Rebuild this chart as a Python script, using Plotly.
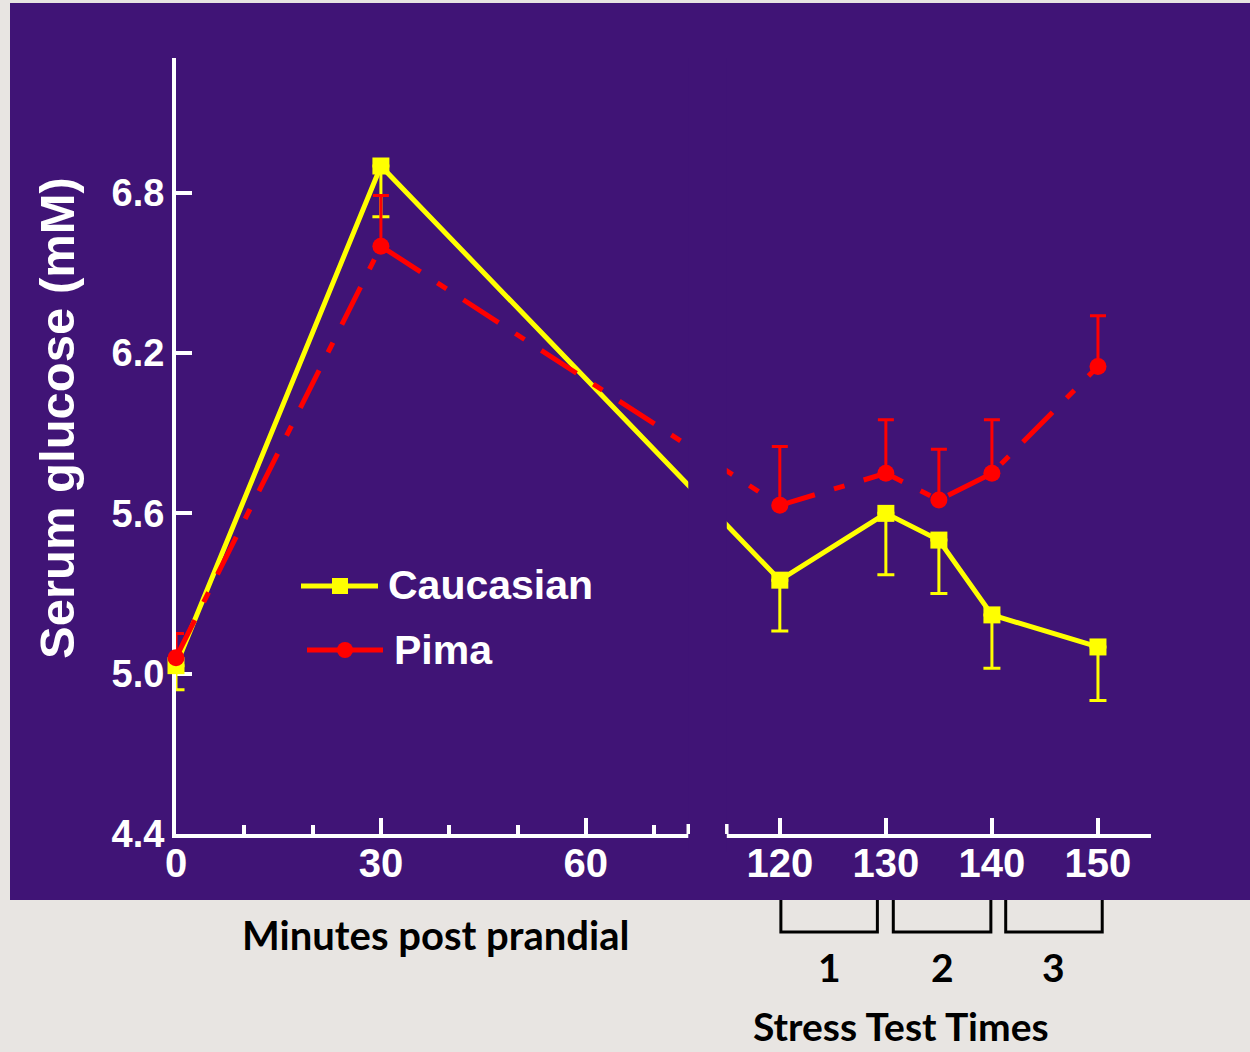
import plotly.graph_objects as go

# ---------------- data ----------------
minutes = [0, 30, 120, 130, 135, 140, 150]
caucasian = [5.03, 6.90, 5.35, 5.60, 5.50, 5.22, 5.10]
caucasian_err = [0.09, 0.19, 0.19, 0.23, 0.20, 0.20, 0.20]
pima = [5.06, 6.60, 5.63, 5.75, 5.65, 5.75, 6.15]
pima_err = [0.09, 0.19, 0.22, 0.20, 0.19, 0.20, 0.19]

x_major_ticks = [0, 30, 60, 120, 130, 140, 150]
x_minor_ticks = [10, 20, 40, 50, 70]
y_ticks = [4.4, 5.0, 5.6, 6.2, 6.8]
stress_labels = ["1", "2", "3"]
stress_spans = [(120.1, 129.2), (130.7, 139.9), (141.3, 150.4)]

# ---------------- broken x scale ----------------
LEFT_END = 75.0        # last minute shown in the left segment
RIGHT_START = 115.0    # first minute shown in the right segment
RIGHT_END = 155.0
RIGHT_OFFSET = 80.64   # axis position where the right segment begins
RIGHT_STRETCH = 1.5527 # right segment is drawn wider per minute


def broken_x(m):
    if m <= LEFT_END:
        return m
    return RIGHT_OFFSET + (m - RIGHT_START) * RIGHT_STRETCH


bx = [broken_x(m) for m in minutes]

# ---------------- geometry / style ----------------
W, H = 1250, 1052
ML, MR, MT, MB = 176, 99, 58, 218
PW, PH = W - ML - MR, H - MT - MB


def px_x(p):
    return (p - ML) / PW


def px_y(p):
    return (H - MB - p) / PH


PURPLE = "rgb(64,20,118)"
GREY = "#e8e5e2"
YELLOW = "#ffff00"
RED = "#ff0000"
WHITE = "#ffffff"
ARIAL = "Liberation Sans, Arial, sans-serif"
CALIBRI = "Lato, Open Sans, sans-serif"

fig = go.Figure()

fig.add_trace(go.Scatter(
    x=bx, y=caucasian, name="Caucasian", mode="lines+markers",
    line=dict(color=YELLOW, width=5),
    marker=dict(symbol="square", size=17, color=YELLOW),
    error_y=dict(type="data", symmetric=False, array=[0] * len(caucasian_err),
                 arrayminus=caucasian_err, color=YELLOW, thickness=3, width=8.5),
    cliponaxis=False, showlegend=False,
))
fig.add_trace(go.Scatter(
    x=bx, y=pima, name="Pima", mode="lines+markers",
    line=dict(color=RED, width=5, dash="42px,20px,11px,20px"),
    marker=dict(symbol="circle", size=17, color=RED),
    error_y=dict(type="data", symmetric=False, array=pima_err,
                 arrayminus=[0] * len(pima_err), color=RED, thickness=3, width=8),
    cliponaxis=False, showlegend=False,
))

shapes = []
# purple panel
shapes.append(dict(type="rect", xref="paper", yref="paper",
                   x0=px_x(10), x1=px_x(1250), y0=px_y(900), y1=px_y(3),
                   fillcolor=PURPLE, line=dict(width=0), layer="below"))
# axis break mask
shapes.append(dict(type="rect", xref="x", yref="paper",
                   x0=broken_x(LEFT_END), x1=broken_x(RIGHT_START),
                   y0=px_y(852), y1=1.0,
                   fillcolor=PURPLE, line=dict(width=0), layer="above"))
# break end caps
for m in (LEFT_END, RIGHT_START):
    shapes.append(dict(type="line", xref="x", yref="y", ysizemode="pixel",
                       yanchor=4.4, x0=broken_x(m), x1=broken_x(m), y0=-13, y1=10,
                       line=dict(color=WHITE, width=3.5), layer="above"))
# stress test brackets
for a, b in stress_spans:
    xa, xb = broken_x(a), broken_x(b)
    ya, yb = px_y(900), px_y(932)
    shapes.append(dict(type="path", xref="x", yref="paper",
                       path=f"M{xa},{ya} L{xa},{yb} L{xb},{yb} L{xb},{ya}",
                       line=dict(color="black", width=3)))
# custom legend
shapes.append(dict(type="line", xref="paper", yref="paper",
                   x0=px_x(301), x1=px_x(378), y0=px_y(586), y1=px_y(586),
                   line=dict(color=YELLOW, width=5)))
shapes.append(dict(type="rect", xref="paper", yref="paper",
                   xsizemode="pixel", ysizemode="pixel",
                   xanchor=px_x(340), yanchor=px_y(586), x0=-8, x1=8, y0=-8, y1=8,
                   fillcolor=YELLOW, line=dict(width=0)))
shapes.append(dict(type="line", xref="paper", yref="paper",
                   x0=px_x(307), x1=px_x(383), y0=px_y(650), y1=px_y(650),
                   line=dict(color=RED, width=5)))
shapes.append(dict(type="circle", xref="paper", yref="paper",
                   xsizemode="pixel", ysizemode="pixel",
                   xanchor=px_x(345), yanchor=px_y(650), x0=-8, x1=8, y0=-8, y1=8,
                   fillcolor=RED, line=dict(width=0)))

annotations = [
    dict(text="Serum glucose (mM)", textangle=-90, xref="paper", yref="paper",
         x=px_x(57), y=px_y(418), xanchor="center", yanchor="middle", showarrow=False,
         font=dict(family=ARIAL, size=49, color=WHITE, weight="bold")),
    dict(text="Caucasian", xref="paper", yref="paper", x=px_x(386), y=px_y(585),
         xanchor="left", yanchor="middle", showarrow=False,
         font=dict(family=ARIAL, size=41, color=WHITE, weight="bold")),
    dict(text="Pima", xref="paper", yref="paper", x=px_x(392), y=px_y(650),
         xanchor="left", yanchor="middle", showarrow=False,
         font=dict(family=ARIAL, size=41, color=WHITE, weight="bold")),
    dict(text="Minutes post prandial", xref="paper", yref="paper",
         x=px_x(435), y=px_y(935), xanchor="center", yanchor="middle", showarrow=False,
         font=dict(family=CALIBRI, size=40, color="black", weight="bold")),
    dict(text="Stress Test Times", xref="paper", yref="paper",
         x=px_x(901), y=px_y(1026), xanchor="center", yanchor="middle", showarrow=False,
         font=dict(family=CALIBRI, size=39, color="black", weight="bold")),
]
for lab, (a, b) in zip(stress_labels, stress_spans):
    annotations.append(dict(text=lab, xref="x", yref="paper",
                            x=broken_x((a + b) / 2), y=px_y(967),
                            xanchor="center", yanchor="middle", showarrow=False,
                            font=dict(family=CALIBRI, size=39, color="black", weight="bold")))

fig.update_layout(
    width=W, height=H,
    margin=dict(l=ML, r=MR, t=MT, b=MB, pad=0),
    paper_bgcolor=GREY, plot_bgcolor="rgba(0,0,0,0)",
    shapes=shapes, annotations=annotations,
    showlegend=False,
)
fig.update_xaxes(
    range=[0, broken_x(RIGHT_END)],
    tickmode="array", tickvals=[broken_x(v) for v in x_major_ticks],
    ticktext=[str(v) for v in x_major_ticks],
    ticks="inside", ticklen=16, tickwidth=3.5, tickcolor=WHITE,
    minor=dict(tickmode="array", tickvals=[broken_x(v) for v in x_minor_ticks],
               ticks="inside", ticklen=9, tickwidth=3.5, tickcolor=WHITE),
    showline=True, linecolor=WHITE, linewidth=4,
    showgrid=False, zeroline=False, layer="below traces",
    ticklabelstandoff=-9,
    tickfont=dict(family=ARIAL, size=40, color=WHITE, weight="bold"),
)
fig.update_yaxes(
    range=[4.4, 4.4 + PH / 267.2],
    tickmode="array", tickvals=y_ticks, ticktext=[f"{v:.1f}" for v in y_ticks],
    ticks="inside", ticklen=16, tickwidth=3.5, tickcolor=WHITE,
    showline=True, linecolor=WHITE, linewidth=4,
    showgrid=False, zeroline=False, layer="below traces",
    tickfont=dict(family=ARIAL, size=38, color=WHITE, weight="bold"),
)

fig.write_html("out.html")
